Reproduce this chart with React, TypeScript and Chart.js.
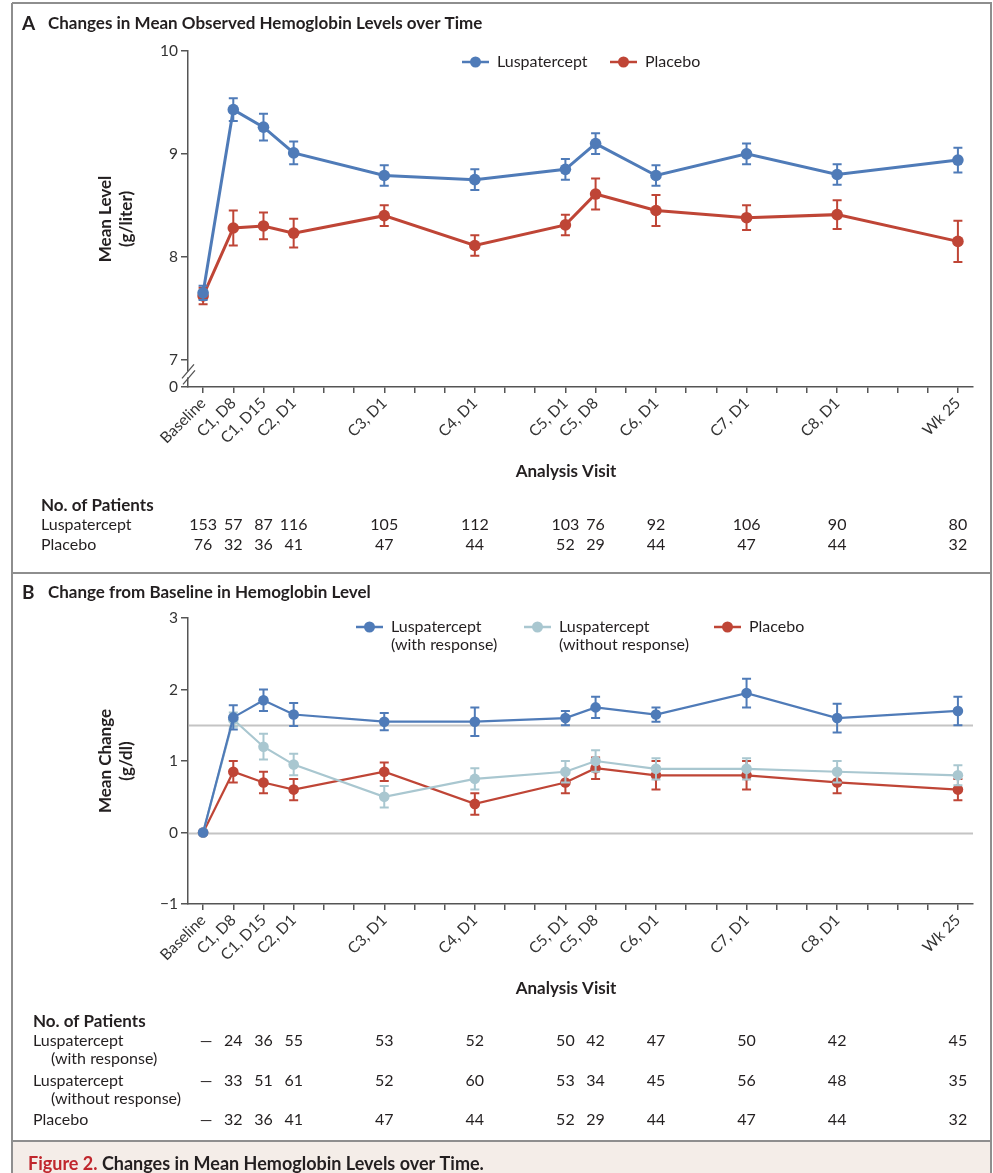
import React, { useEffect, useRef } from 'react';
import { Chart, registerables } from 'chart.js';

Chart.register(...registerables);

const FONT = 'Lato, "Open Sans", "DejaVu Sans", sans-serif';
const INK = '#231f20';
const TICK_INK = '#333333';
const AXIS = '#555555';
const FRAME = '#8e8e8e';
const BLUE = '#4f7bb8';
const LIGHT_BLUE = '#a9c7d0';
const RED = '#bf4536';
const REF_LINE = '#c4c4c4';
const CAPTION_BG = '#f4ede8';
const CAPTION_RED = '#c0272d';

// Visits, placed by study week
const visitLabels = ['Baseline', 'C1, D8', 'C1, D15', 'C2, D1', 'C3, D1', 'C4, D1', 'C5, D1', 'C5, D8', 'C6, D1', 'C7, D1', 'C8, D1', 'Wk 25'];
const visitWeeks = [0, 1, 2, 3, 6, 9, 12, 13, 15, 18, 21, 25];
const weekTicks = [0, 1, 2, 3, 4, 5, 6, 7, 8, 9, 10, 11, 12, 13, 14, 15, 16, 17, 18, 19, 20, 21, 22, 23, 24, 25];

// Panel A: mean observed hemoglobin (with standard error)
const levelFloorA = 6.735; // broken-axis floor, labelled 0
const yTicksA = [levelFloorA, 7, 8, 9, 10];
const lusMeanA = [7.65, 9.43, 9.26, 9.01, 8.79, 8.75, 8.85, 9.1, 8.79, 9.0, 8.8, 8.94];
const lusErrA = [0.07, 0.11, 0.13, 0.11, 0.1, 0.1, 0.1, 0.1, 0.1, 0.1, 0.1, 0.12];
const plaMeanA = [7.62, 8.28, 8.3, 8.23, 8.4, 8.11, 8.31, 8.61, 8.45, 8.38, 8.41, 8.15];
const plaErrA = [0.08, 0.17, 0.13, 0.14, 0.1, 0.1, 0.1, 0.15, 0.15, 0.12, 0.14, 0.2];
const lusCountA = [153, 57, 87, 116, 105, 112, 103, 76, 92, 106, 90, 80];
const plaCountA = [76, 32, 36, 41, 47, 44, 52, 29, 44, 47, 44, 32];

// Panel B: mean change from baseline (with standard error)
const yTicksB = [-1, 0, 1, 2, 3];
const refLinesB = [1.5, 0];
const respMeanB = [0, 1.61, 1.85, 1.65, 1.55, 1.55, 1.6, 1.75, 1.65, 1.95, 1.6, 1.7];
const respErrB = [0, 0.17, 0.15, 0.16, 0.12, 0.2, 0.1, 0.15, 0.1, 0.2, 0.2, 0.2];
const nonRespMeanB = [0, 1.58, 1.2, 0.95, 0.5, 0.75, 0.85, 1.0, 0.89, 0.89, 0.85, 0.8];
const nonRespErrB = [0, 0.1, 0.18, 0.15, 0.15, 0.15, 0.15, 0.15, 0.15, 0.15, 0.15, 0.14];
const plaMeanB = [0, 0.85, 0.7, 0.6, 0.85, 0.4, 0.7, 0.9, 0.8, 0.8, 0.7, 0.6];
const plaErrB = [0, 0.15, 0.15, 0.15, 0.13, 0.15, 0.15, 0.15, 0.2, 0.2, 0.15, 0.15];
const respCountB = [null, 24, 36, 55, 53, 52, 50, 42, 47, 50, 42, 45];
const nonRespCountB = [null, 33, 51, 61, 52, 60, 53, 34, 45, 56, 48, 35];
const plaCountB = [null, 32, 36, 41, 47, 44, 52, 29, 44, 47, 44, 32];

const W = 993;
const H_A = 572;
const H_B = 601;

type Counts = (number | null)[];
interface TableRow { lines: string[]; lineYs: number[]; counts: Counts }
interface LegendItem { lines: string[]; color: string; x: number }
interface PanelSpec {
  letter: string;
  title: string;
  titleY: number;
  yTitle: string[];
  legend: LegendItem[];
  legendY: number;
  legendLineGap: number;
  axisTitleY: number;
  headerY: number;
  labelX: number;
  indentX: number;
  rows: TableRow[];
  isFirst: boolean;
  refLines?: number[];
  axisBreak?: boolean;
  caption?: boolean;
}

function lineDataset(label: string, means: number[], errs: number[], color: string, width: number, radius: number) {
  return {
    label,
    data: visitWeeks.map((w, i) => ({ x: w, y: means[i] })),
    errors: errs,
    borderColor: color,
    backgroundColor: color,
    borderWidth: width,
    pointRadius: radius,
    pointHoverRadius: radius,
    pointBorderWidth: 0,
    pointBackgroundColor: color,
    tension: 0,
    clip: false as const,
  };
}

// Vertical error bars, drawn just before each series so its line and points sit on top
const errorBars = {
  id: 'errorBars',
  beforeDatasetDraw(chart: any, args: any) {
    const ds = chart.data.datasets[args.index];
    const errs: number[] | undefined = ds.errors;
    if (!errs) return;
    const y = chart.scales.y;
    const ctx = chart.ctx;
    ctx.save();
    ctx.strokeStyle = ds.borderColor;
    ctx.lineWidth = ds.errorWidth || 2;
    const cap = ds.capHalf || 4.5;
    args.meta.data.forEach((pt: any, i: number) => {
      const e = errs[i];
      if (!e) return;
      const v = ds.data[i].y;
      const top = y.getPixelForValue(v + e);
      const bot = y.getPixelForValue(v - e);
      ctx.beginPath();
      ctx.moveTo(pt.x, top);
      ctx.lineTo(pt.x, bot);
      ctx.moveTo(pt.x - cap, top);
      ctx.lineTo(pt.x + cap, top);
      ctx.moveTo(pt.x - cap, bot);
      ctx.lineTo(pt.x + cap, bot);
      ctx.stroke();
    });
    ctx.restore();
  },
};

function panelDecor(spec: PanelSpec, height: number) {
  return {
    id: 'panelDecor',
    beforeDatasetsDraw(chart: any) {
      if (!spec.refLines) return;
      const { ctx, chartArea } = chart;
      const y = chart.scales.y;
      ctx.save();
      ctx.strokeStyle = REF_LINE;
      ctx.lineWidth = 2;
      spec.refLines.forEach((v) => {
        const py = Math.round(y.getPixelForValue(v)) + 0.5;
        ctx.beginPath();
        ctx.moveTo(chartArea.left + 1, py);
        ctx.lineTo(chartArea.right, py);
        ctx.stroke();
      });
      ctx.restore();
    },
    afterDraw(chart: any) {
      const { ctx, chartArea } = chart;
      const x = chart.scales.x;
      const y = chart.scales.y;
      ctx.save();

      // caption strip
      if (spec.caption) {
        ctx.fillStyle = CAPTION_BG;
        ctx.fillRect(13, height - 31, W - 15, 31);
        ctx.strokeStyle = FRAME;
        ctx.lineWidth = 2;
        ctx.beginPath();
        ctx.moveTo(12, height - 32);
        ctx.lineTo(992, height - 32);
        ctx.stroke();
        ctx.font = `bold 18px ${FONT}`;
        ctx.textAlign = 'left';
        ctx.textBaseline = 'alphabetic';
        ctx.fillStyle = CAPTION_RED;
        const lead = 'Figure 2.';
        ctx.fillText(lead, 28, height - 3);
        const lw = ctx.measureText(lead + ' ').width;
        ctx.fillStyle = INK;
        ctx.fillText('Changes in Mean Hemoglobin Levels over Time.', 28 + lw, height - 3);
      }

      // frame
      ctx.strokeStyle = FRAME;
      ctx.lineWidth = 2;
      ctx.beginPath();
      const top = spec.isFirst ? 3 : 0;
      ctx.moveTo(12, spec.isFirst ? 3 : 1);
      ctx.lineTo(992, spec.isFirst ? 3 : 1);
      ctx.moveTo(12, top);
      ctx.lineTo(12, height);
      ctx.moveTo(991, top);
      ctx.lineTo(991, height);
      ctx.stroke();

      // panel title
      ctx.fillStyle = INK;
      ctx.textBaseline = 'middle';
      ctx.textAlign = 'left';
      ctx.font = `bold 19px ${FONT}`;
      ctx.fillText(spec.letter, 22, spec.titleY);
      ctx.font = `bold 17px ${FONT}`;
      ctx.fillText(spec.title, 48, spec.titleY);

      // y-axis title
      const midY = (chartArea.top + chartArea.bottom) / 2;
      ctx.font = `bold 17px ${FONT}`;
      ctx.textAlign = 'center';
      spec.yTitle.forEach((t, i) => {
        ctx.save();
        ctx.translate(106 + i * 21, midY);
        ctx.rotate(-Math.PI / 2);
        ctx.fillText(t, 0, 0);
        ctx.restore();
      });

      // x-axis title
      ctx.fillText('Analysis Visit', 566, spec.axisTitleY);

      // legend
      ctx.font = `16px ${FONT}`;
      ctx.textAlign = 'left';
      spec.legend.forEach((item) => {
        ctx.strokeStyle = item.color;
        ctx.fillStyle = item.color;
        ctx.lineWidth = 2.5;
        ctx.beginPath();
        ctx.moveTo(item.x, spec.legendY);
        ctx.lineTo(item.x + 27, spec.legendY);
        ctx.stroke();
        ctx.beginPath();
        ctx.arc(item.x + 13.5, spec.legendY, 5.5, 0, Math.PI * 2);
        ctx.fill();
        ctx.fillStyle = INK;
        item.lines.forEach((t, i) => ctx.fillText(t, item.x + 35, spec.legendY + i * spec.legendLineGap));
      });

      // broken axis mark between 7 and 0
      if (spec.axisBreak) {
        const ax = chartArea.left;
        const cy = (y.getPixelForValue(7) + chartArea.bottom) / 2 + 1;
        ctx.fillStyle = '#ffffff';
        ctx.fillRect(ax - 3, cy - 3, 6, 6);
        ctx.strokeStyle = AXIS;
        ctx.lineWidth = 1.3;
        ctx.beginPath();
        ctx.moveTo(ax - 6, cy + 4);
        ctx.lineTo(ax + 6, cy - 10);
        ctx.moveTo(ax - 5, cy + 10);
        ctx.lineTo(ax + 7, cy - 4);
        ctx.stroke();
      }

      // number-of-patients table
      ctx.fillStyle = INK;
      ctx.textAlign = 'left';
      ctx.font = `bold 17px ${FONT}`;
      ctx.fillText('No. of Patients', spec.labelX, spec.headerY);
      ctx.font = `16px ${FONT}`;
      spec.rows.forEach((row) => {
        row.lines.forEach((t, i) => {
          ctx.textAlign = 'left';
          ctx.fillText(t, i === 0 ? spec.labelX : spec.indentX, row.lineYs[i]);
        });
        ctx.textAlign = 'center';
        row.counts.forEach((n, i) => {
          const px = x.getPixelForValue(visitWeeks[i]);
          ctx.fillText(n === null ? '\u2014' : String(n), px + (n === null ? 3 : 0), row.lineYs[0]);
        });
      });

      ctx.restore();
    },
  };
}

function makeConfig(spec: PanelSpec, datasets: any[], yMin: number, yMax: number, yTicks: number[], yLabel: (v: number) => string, padTop: number, plotBottom: number, height: number) {
  return {
    type: 'line' as const,
    data: { datasets },
    options: {
      animation: false as const,
      responsive: false,
      maintainAspectRatio: false,
      layout: { padding: { top: padTop, right: 20, left: 0, bottom: 0 } },
      plugins: { legend: { display: false }, tooltip: { enabled: false } },
      events: [],
      scales: {
        x: {
          type: 'linear' as const,
          min: -0.5,
          max: 25.5,
          afterBuildTicks: (s: any) => { s.ticks = weekTicks.map((v) => ({ value: v })); },
          afterFit: (s: any) => { s.height = height - plotBottom; },
          ticks: {
            autoSkip: false,
            minRotation: 45,
            maxRotation: 45,
            padding: 1,
            color: TICK_INK,
            font: { family: FONT, size: 15.5 },
            callback: (v: any) => {
              const i = visitWeeks.indexOf(Number(v));
              return i >= 0 ? visitLabels[i] : '';
            },
          },
          grid: { drawOnChartArea: false, drawTicks: true, tickLength: 6, color: AXIS, lineWidth: 1.5 },
          border: { color: AXIS, width: 1.5 },
        },
        y: {
          type: 'linear' as const,
          min: yMin,
          max: yMax,
          afterBuildTicks: (s: any) => { s.ticks = yTicks.map((v) => ({ value: v })); },
          afterFit: (s: any) => { s.width = 188; },
          ticks: {
            padding: 3,
            color: TICK_INK,
            font: { family: FONT, size: 15.5 },
            callback: (v: any) => yLabel(Number(v)),
          },
          grid: { drawOnChartArea: false, drawTicks: true, tickLength: 7, color: AXIS, lineWidth: 1.5 },
          border: { color: AXIS, width: 1.5 },
        },
      },
    },
    plugins: [errorBars, panelDecor(spec, height)],
  };
}

const specA: PanelSpec = {
  letter: 'A',
  title: 'Changes in Mean Observed Hemoglobin Levels over Time',
  titleY: 24,
  yTitle: ['Mean Level', '(g/liter)'],
  legend: [
    { lines: ['Luspatercept'], color: BLUE, x: 462 },
    { lines: ['Placebo'], color: RED, x: 610 },
  ],
  legendY: 62,
  legendLineGap: 19,
  axisTitleY: 472,
  headerY: 506,
  labelX: 41,
  indentX: 59,
  rows: [
    { lines: ['Luspatercept'], lineYs: [525], counts: lusCountA },
    { lines: ['Placebo'], lineYs: [545], counts: plaCountA },
  ],
  isFirst: true,
  axisBreak: true,
};

const specB: PanelSpec = {
  letter: 'B',
  title: 'Change from Baseline in Hemoglobin Level',
  titleY: 21,
  yTitle: ['Mean Change', '(g/dl)'],
  legend: [
    { lines: ['Luspatercept', '(with response)'], color: BLUE, x: 356 },
    { lines: ['Luspatercept', '(without response)'], color: LIGHT_BLUE, x: 524 },
    { lines: ['Placebo'], color: RED, x: 714 },
  ],
  legendY: 55,
  legendLineGap: 18,
  axisTitleY: 417,
  headerY: 450,
  labelX: 33,
  indentX: 51,
  rows: [
    { lines: ['Luspatercept', '(with response)'], lineYs: [469, 487], counts: respCountB },
    { lines: ['Luspatercept', '(without response)'], lineYs: [509, 527], counts: nonRespCountB },
    { lines: ['Placebo'], lineYs: [548], counts: plaCountB },
  ],
  isFirst: false,
  refLines: refLinesB,
  caption: true,
};

function withBars(ds: any, errorWidth: number, capHalf: number) {
  return { ...ds, errorWidth, capHalf };
}

export default function App() {
  const refA = useRef<HTMLCanvasElement>(null);
  const refB = useRef<HTMLCanvasElement>(null);

  useEffect(() => {
    const dsA = [
      withBars(lineDataset('Luspatercept', lusMeanA, lusErrA, BLUE, 3, 5.8), 2, 4.5),
      withBars(lineDataset('Placebo', plaMeanA, plaErrA, RED, 3, 5.8), 2, 4.5),
    ];
    const dsB = [
      withBars(lineDataset('Luspatercept (with response)', respMeanB, respErrB, BLUE, 2.2, 5.3), 2, 4.5),
      withBars(lineDataset('Luspatercept (without response)', nonRespMeanB, nonRespErrB, LIGHT_BLUE, 2.2, 5.3), 2, 4.5),
      withBars(lineDataset('Placebo', plaMeanB, plaErrB, RED, 2.2, 5.3), 2, 4.5),
    ];
    const chartA = new Chart(
      refA.current as HTMLCanvasElement,
      makeConfig(specA, dsA, levelFloorA, 10, yTicksA, (v) => (v < 7 ? '0' : String(v)), 51, 387, H_A) as any
    );
    const chartB = new Chart(
      refB.current as HTMLCanvasElement,
      makeConfig(specB, dsB, -1, 3, yTicksB, (v) => (v < 0 ? '\u2212' + Math.abs(v) : String(v)), 46, 332, H_B) as any
    );
    return () => {
      chartA.destroy();
      chartB.destroy();
    };
  }, []);

  return (
    <div style={{ position: 'absolute', left: 0, top: 0, width: W, height: H_A + H_B, background: '#ffffff' }}>
      <canvas ref={refA} width={W} height={H_A} style={{ position: 'absolute', left: 0, top: 0, width: W, height: H_A }} />
      <canvas ref={refB} width={W} height={H_B} style={{ position: 'absolute', left: 0, top: H_A, width: W, height: H_B }} />
    </div>
  );
}
